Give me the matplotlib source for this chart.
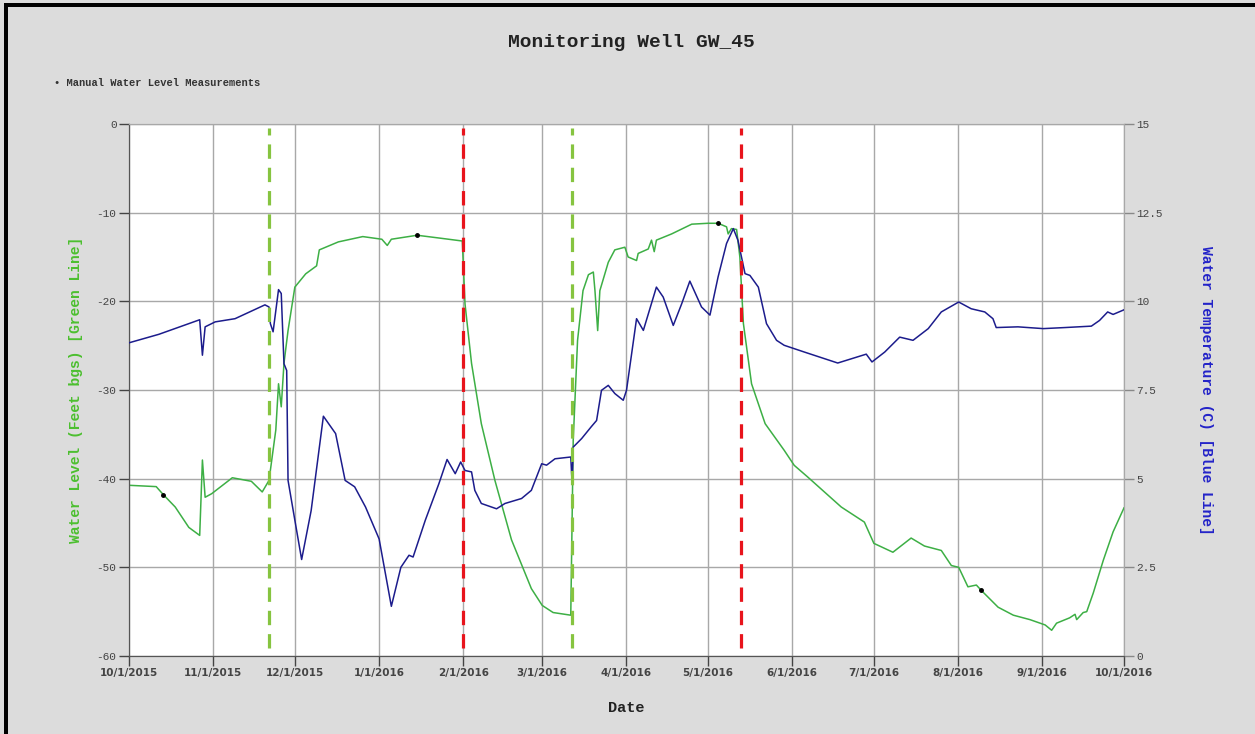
import pandas as pd
import matplotlib
matplotlib.use("Agg")
import matplotlib.pyplot as plt

# days since 10/1/2015
green_days = [0, 10, 12.6, 17, 22, 26, 27, 28, 30.4, 38,
              45, 49, 51.5, 54, 55, 56, 57, 58.5, 61, 65,
              69, 70, 77, 86, 93, 95, 96.5, 106, 115, 122.6,
              123.6, 126, 129.6, 134.6, 140.7, 148, 152, 156, 162.5, 163.4,
              165, 167, 169, 170.8, 171.4, 172.4, 173.2, 176.3, 178.7, 182.4,
              183.6, 186.7, 187.3, 191, 192.2, 193.2, 194, 199.6, 207, 213,
              216.7, 219.8, 220.4, 221.6, 223.5, 224.7, 226, 229, 234, 241,
              244.7, 249.6, 255.8, 262, 270.5, 274, 281, 287.7, 292.6, 298.8,
              302.5, 305.2, 308.6, 311.7, 313.5, 319.7, 325.3, 331.4, 337, 339.4,
              341.2, 346, 348, 348.6, 351, 352.3, 354.7, 358.4, 362, 366]
green_level = [-40.75, -40.9, -41.8, -43.2, -45.5, -46.4, -37.9, -42.1, -41.7, -39.9,
               -40.3, -41.5, -40.2, -34.5, -29.3, -31.9, -27.0, -23.3, -18.4, -16.9,
               -16.0, -14.2, -13.3, -12.7, -13.0, -13.7, -13.0, -12.55, -12.9, -13.2,
               -20.3, -27.0, -33.8, -40.2, -46.9, -52.4, -54.3, -55.1, -55.4, -35.7,
               -24.4, -18.8, -17.0, -16.7, -18.8, -23.3, -18.8, -15.6, -14.2, -13.9,
               -15.0, -15.4, -14.6, -14.1, -13.1, -14.4, -13.1, -12.4, -11.3, -11.2,
               -11.2, -11.6, -12.4, -11.8, -11.9, -15.0, -22.5, -29.3, -33.8, -36.8,
               -38.5, -39.8, -41.5, -43.2, -44.9, -47.3, -48.3, -46.7, -47.6, -48.1,
               -49.8, -50.0, -52.2, -52.0, -52.6, -54.5, -55.4, -55.9, -56.5, -57.1,
               -56.3, -55.7, -55.3, -55.9, -55.1, -55.0, -52.9, -49.2, -46.0, -43.3]

blue_days = [0, 11, 26, 27, 28, 31.7, 39, 50, 51.5, 52,
             53, 55, 56, 57, 58, 58.5, 61, 63.5, 67, 71.5,
             76, 79.5, 83, 87, 92, 96.5, 100, 103, 104.5, 109,
             114, 117, 120, 122, 123.6, 126, 127.2, 129.6, 135.2, 138.3,
             144.4, 148, 151.8, 153.6, 156.7, 162.5, 163, 163.4, 166.5, 170,
             172, 173.8, 176.3, 178.7, 181.8, 183, 186.7, 189.2, 194, 196.5,
             200.2, 203.3, 206.3, 210.6, 213.7, 216.7, 219.8, 222.3, 224, 226.6,
             228.4, 231.5, 234.5, 238.2, 241, 248.4, 260.7, 271.2, 273.3, 278,
             283.5, 288.4, 294, 298.8, 305.2, 309.8, 314.8, 317.8, 319, 327,
             336.3, 344.3, 354, 357, 360, 362, 366]
blue_temp = [8.83, 9.07, 9.48, 8.48, 9.28, 9.42, 9.51, 9.9, 9.84, 9.37,
             9.14, 10.33, 10.22, 8.24, 8.05, 4.95, 3.83, 2.72, 4.1, 6.76,
             6.27, 4.95, 4.77, 4.2, 3.3, 1.4, 2.5, 2.84, 2.79, 3.83,
             4.86, 5.54, 5.14, 5.47, 5.23, 5.19, 4.67, 4.3, 4.15, 4.3,
             4.44, 4.67, 5.42, 5.38, 5.56, 5.61, 4.86, 5.89, 6.13, 6.46,
             6.64, 7.49, 7.63, 7.4, 7.21, 7.49, 9.51, 9.18, 10.4, 10.12,
             9.32, 9.93, 10.57, 9.84, 9.61, 10.69, 11.63, 12.05, 11.72, 10.78,
             10.73, 10.4, 9.37, 8.9, 8.76, 8.57, 8.26, 8.51, 8.29, 8.57,
             8.99, 8.9, 9.23, 9.7, 9.98, 9.79, 9.7, 9.51, 9.26, 9.28,
             9.23, 9.26, 9.3, 9.46, 9.7, 9.63, 9.76]

manual_days = [12.6, 106, 216.7, 313.5]
manual_level = [-41.8, -12.55, -11.2, -52.6]

green_event_days = [51.5, 162.8]
red_event_days = [123, 225.3]

month_labels = ['10/1/2015', '11/1/2015', '12/1/2015', '1/1/2016', '2/1/2016', '3/1/2016',
                '4/1/2016', '5/1/2016', '6/1/2016', '7/1/2016', '8/1/2016', '9/1/2016',
                '10/1/2016']
left_ticks = [0, -10, -20, -30, -40, -50, -60]
right_ticks = [0, 2.5, 5, 7.5, 10, 12.5, 15]
right_labels = ['0', '2.5', '5', '7.5', '10', '12.5', '15']

start = pd.Timestamp('2015-10-01')
def to_dates(days):
    return start + pd.to_timedelta(days, unit='D')

mono = 'Liberation Mono'
bg = '#dcdcdc'

fig = plt.figure(figsize=(12.55, 7.34), dpi=100, facecolor=bg)
ax = fig.add_axes([0.1028, 0.1063, 0.7928, 0.7248])
ax2 = ax.twinx()

ax.plot(to_dates(green_days), green_level, color='#3daf45', lw=1.1, zorder=3)
ax.plot(to_dates(manual_days), manual_level, 'o', color='black', ms=2.5, zorder=4)
ax2.plot(to_dates(blue_days), blue_temp, color='#1c1c8c', lw=1.1, zorder=3)

for d in green_event_days:
    ax2.axvline(to_dates([d])[0], ymin=0.015, ymax=0.992, color='#86c440', lw=2.3,
                dashes=(4.5, 2.8), zorder=5)
for d in red_event_days:
    ax2.axvline(to_dates([d])[0], ymin=0.015, ymax=0.992, color='#e8141c', lw=2.3,
                dashes=(4.5, 2.8), zorder=5)

ticks = pd.date_range('2015-10-01', '2016-10-01', freq='MS')
ax.set_xlim(ticks[0], ticks[-1])
ax.set_xticks(ticks)
ax.set_xticklabels(month_labels, fontsize=7.5, fontweight='bold', color='#444444')

ax.set_ylim(-60, 0)
ax.set_yticks(left_ticks)
ax.set_yticklabels([str(t) for t in left_ticks], fontsize=8, family=mono, color='#444444')
ax2.set_ylim(0, 15)
ax2.set_yticks(right_ticks)
ax2.set_yticklabels(right_labels, fontsize=8, family=mono, color='#444444')

ax.grid(True, color='#a8a8a8', lw=1)
ax.tick_params(axis='both', length=7, width=1, color='#444444', pad=2)
ax2.tick_params(axis='y', length=7, width=1, color='#888888', pad=2)
for a in (ax, ax2):
    a.spines['top'].set_color('#a8a8a8')
    a.spines['right'].set_color('#a8a8a8')
    a.spines['left'].set_color('#555555')
    a.spines['bottom'].set_color('#555555')

ax.set_xlabel('Date', family=mono, fontweight='bold', fontsize=11, color='#222222', labelpad=16)
ax.set_ylabel('Water Level (Feet bgs) [Green Line]', family=mono, fontweight='bold',
              fontsize=10.5, color='#4cbf2f', labelpad=10)
ax2.set_ylabel('Water Temperature (C) [Blue Line]', family=mono, fontweight='bold',
               fontsize=10.5, color='#2323c8', rotation=270, labelpad=36)

fig.text(0.503, 0.942, 'Monitoring Well GW_45', ha='center', va='center',
         family=mono, fontweight='bold', fontsize=14, color='#222222')
fig.text(0.043, 0.887, '\u2022 Manual Water Level Measurements', ha='left', va='center',
         family=mono, fontweight='bold', fontsize=7.5, color='#333333')

# black frame on the top and left edges
fig.add_artist(plt.Rectangle((4 / 1255, 0), 4 / 1255, 1 - 3 / 734, transform=fig.transFigure,
                             color='black', lw=0))
fig.add_artist(plt.Rectangle((4 / 1255, 1 - 7 / 734), 1 - 4 / 1255, 4 / 734,
                             transform=fig.transFigure, color='black', lw=0))

fig.savefig('out.png', dpi=100, facecolor=bg)
